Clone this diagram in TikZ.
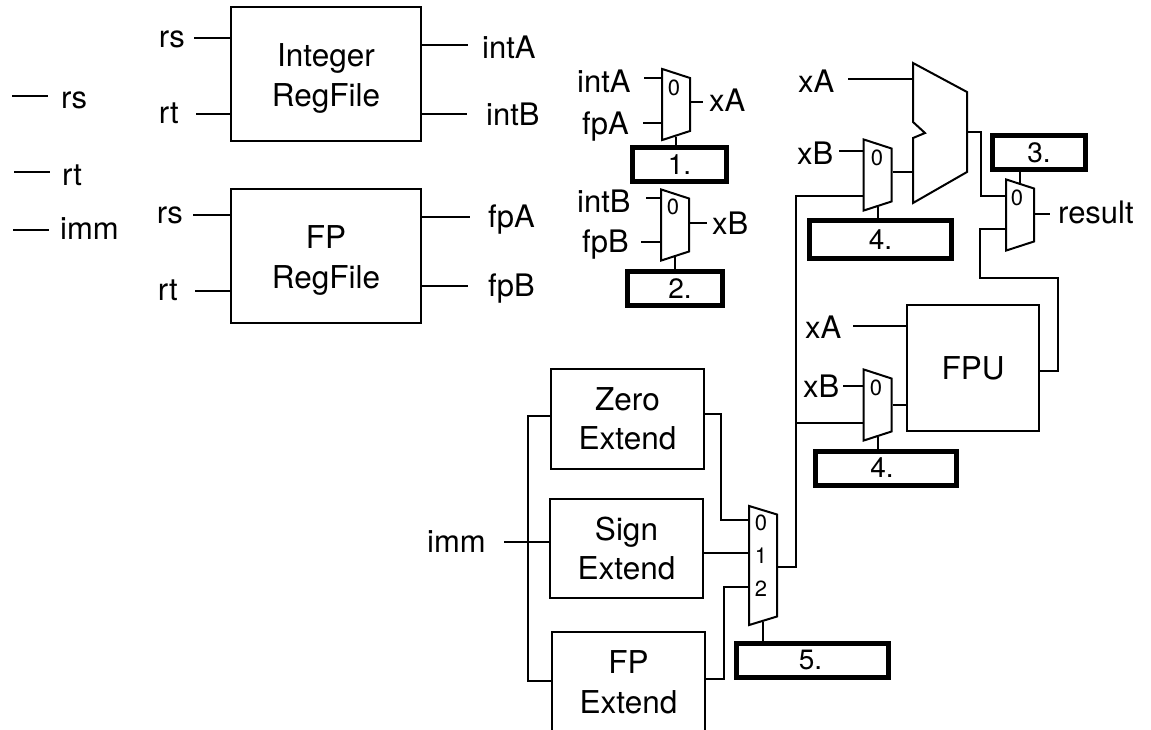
\documentclass[tikz,border=0pt]{standalone}
\usepackage{fontspec}
\setmainfont{TeX Gyre Heros}
\usetikzlibrary{shapes.geometric, positioning}

\begin{document}
\begin{tikzpicture}[
    x=1pt, y=-1pt,
    wire/.style={line width=2pt},
    box/.style={rectangle, draw, line width=2pt, align=center, font=\fontsize{31.5}{39.5}\selectfont},
    lbl/.style={inner sep=0pt, font=\fontsize{31}{37}\selectfont},
    ctrl/.style={rectangle, draw, line width=5pt, minimum height=34pt, font=\fontsize{28}{34}\selectfont},
    mux/.style={trapezium, draw, line width=2pt, inner xsep=14pt, inner ysep=26.5pt, shape border rotate=270, trapezium angle=72},
    num/.style={inner sep=0pt, font=\fontsize{22}{26}\selectfont}
]
\useasboundingbox (0,0) rectangle (1151,730);

% Free wires on the left
\coordinate (rsfree) at (48,96);
\coordinate (rsstart) at (12,96);
\coordinate (rtfree) at (50,172);
\coordinate (rtstart) at (14,172);
\coordinate (immfree) at (49,230);
\coordinate (immstart) at (13,230);
\node (rslbl) [lbl, anchor=base west] at (61,109) {rs};
\node (rtlbl) [lbl, anchor=base west] at (62,186) {rt};
\node (immlbl) [lbl, anchor=base west] at (60,240) {imm};
\draw [wire] (rsstart) -- (rsfree);
\draw [wire] (rtstart) -- (rtfree);
\draw [wire] (immstart) -- (immfree);

% Register files
\node (intreg) [box, minimum width=190pt, minimum height=134pt] at (326,74) {\rule{0pt}{32pt}Integer \\ RegFile};
\node (fpreg) [box, minimum width=190pt, minimum height=134pt, below=46pt of intreg] {\rule{0pt}{32pt}FP \\ RegFile};

\coordinate (intrs) at (194,38);
\coordinate (intrt) at (196,114);
\coordinate (fprs) at (193,215);
\coordinate (fprt) at (195,291);
\coordinate (intaout) at (468,45);
\coordinate (intbout) at (467,114);
\coordinate (fpaout) at (470,217);
\coordinate (fpbout) at (468,286);
\node (intrslbl) [lbl, anchor=base east] at (185,48) {rs};
\node (intrtlbl) [lbl, anchor=base east] at (179,124) {rt};
\node (fprslbl) [lbl, anchor=base east] at (183,224) {rs};
\node (fprtlbl) [lbl, anchor=base east] at (178,300) {rt};
\node (intalbl) [lbl, anchor=base west] at (482,59) {intA};
\node (intblbl) [lbl, anchor=base west] at (486,126) {intB};
\node (fpalbl) [lbl, anchor=base west] at (488,228) {fpA};
\node (fpblbl) [lbl, anchor=base west] at (488,296) {fpB};
\draw [wire] (intrs) -- (intreg.west |- intrs);
\draw [wire] (intrt) -- (intreg.west |- intrt);
\draw [wire] (fprs) -- (fpreg.west |- fprs);
\draw [wire] (fprt) -- (fpreg.west |- fprt);
\draw [wire] (intreg.east |- intaout) -- (intaout);
\draw [wire] (intreg.east |- intbout) -- (intbout);
\draw [wire] (fpreg.east |- fpaout) -- (fpaout);
\draw [wire] (fpreg.east |- fpbout) -- (fpbout);

% Forwarding muxes
\node (muxa) [mux] at (676,104.5) {};
\node (muxb) [mux] at (675,225) {};
\node (ctrl1) [ctrl, minimum width=94pt] at (679.5,164.5) {1.};
\node (ctrl2) [ctrl, minimum width=95pt] at (675,288.5) {\hspace*{10pt}2.};
\node (muxazero) [num] at (674,88) {0};
\node (muxbzero) [num] at (673,207) {0};

\coordinate (inta) at (644,78);
\coordinate (fpa) at (643,123);
\coordinate (xaout) at (703,102);
\coordinate (intb) at (646,198);
\coordinate (fpb) at (641,242);
\coordinate (xbout) at (707,223);
\node (intain) [lbl, anchor=base west] at (577,93) {intA};
\node (fpain) [lbl, anchor=base west] at (582,135) {fpA};
\node (xaoutlbl) [lbl, anchor=base west] at (709,112) {xA};
\node (intbin) [lbl, anchor=base west] at (577,212) {intB};
\node (fpbin) [lbl, anchor=base west] at (582,252) {fpB};
\node (xboutlbl) [lbl, anchor=base west] at (712,235) {xB};
\draw [wire] (inta) -- (muxa.west |- inta);
\draw [wire] (fpa) -- (muxa.west |- fpa);
\draw [wire] (muxa.east |- xaout) -- (xaout);
\draw [wire] (intb) -- (muxb.west |- intb);
\draw [wire] (fpb) -- (muxb.west |- fpb);
\draw [wire] (muxb.east |- xbout) -- (xbout);
\draw [wire] (muxa.south) -- (ctrl1.north -| muxa.south);
\draw [wire] (muxb.south) -- (ctrl2.north -| muxb.south);

% ALU
\coordinate (alua) at (913,79);
\coordinate (alub) at (913,172);
\coordinate (aluout) at (967,132);
\draw [wire, line join=miter] (913,63) -- (967,92) -- (967,172) -- (913,203) -- (913,138) -- (925,133) -- (913,122) -- cycle;

\node (muxalu) [mux] at (877.5,175) {};
\node (muxres) [mux] at (1020,215) {};
\node (muxfpu) [mux] at (877.5,405) {};
\node (ctrl3) [ctrl, minimum width=93pt] at (1039,153) {3.};
\node (ctrl4) [ctrl, minimum width=142pt, minimum height=38pt] at (880.5,239.5) {4.};
\node (ctrl4b) [ctrl, minimum width=141pt] at (886,468) {\hspace*{-8pt}4.};
\node (fpu) [box, minimum width=132pt, minimum height=126pt] at (973,368) {FPU};
\node (alubzero) [num] at (877,158) {0};
\node (reszero) [num] at (1017,198) {0};
\node (fpuzero) [num] at (876,388) {0};

\coordinate (xain) at (848,79);
\coordinate (xbin) at (839,151);
\coordinate (resout) at (1050,214);
\coordinate (xafpu) at (853,326);
\coordinate (xbfpu) at (843,386);
\node (xalbl) [lbl, anchor=base west] at (798,93) {xA};
\node (xblbl) [lbl, anchor=base west] at (797,165) {xB};
\node (reslbl) [lbl, anchor=base west] at (1058,223) {result};
\node (xafpulbl) [lbl, anchor=base west] at (805,338) {xA};
\node (xbfpulbl) [lbl, anchor=base west] at (803,397) {xB};

% Extenders
\node (zeroext) [box, minimum width=153pt, minimum height=100pt] at (627.5,419) {Zero \\ Extend};
\node (signext) [box, minimum width=153pt, minimum height=99pt] at (626.5,548.5) {Sign \\ Extend};
\node (fpext) [box, minimum width=153pt, minimum height=100pt] at (628.5,682) {FP \\ Extend};
\node (muximm) [mux, inner ysep=51pt, trapezium angle=73] at (763,565.5) {};
\node (ctrl5) [ctrl, minimum width=152pt] at (812.5,660) {\hspace*{-4pt}5.};
\node (immzero) [num] at (761,523) {0};
\node (immone) [num] at (761,556) {1};
\node (immtwo) [num] at (761,589) {2};

\coordinate (immin) at (504,542);
\coordinate (immbus) at (528,542);
\node (immextlbl) [lbl, anchor=base west] at (427,552) {imm};

% Wires
\draw [wire] (xain) -- (alua);
\draw [wire] (xbin) -- (muxalu.west |- xbin);
\draw [wire] (muxalu.east |- alub) -- (alub);
\draw [wire] (muxalu.south) -- (ctrl4.north -| muxalu.south);
\draw [wire] (aluout) -- (981,132) |- (muxres.west |- 0,196);
\draw [wire] (ctrl3.south -| muxres.north) -- (muxres.north);
\draw [wire] (muxres.east |- resout) -- (resout);
\draw [wire] (muxres.west |- 0,229) -- (980,229) -- (980,278) -- (1058,278) -- (1058,371) -- (fpu.east |- 0,371);
\draw [wire] (xafpu) -- (fpu.west |- xafpu);
\draw [wire] (xbfpu) -- (muxfpu.west |- xbfpu);
\draw [wire] (muxfpu.east) -- (fpu.west |- muxfpu.east);
\draw [wire] (muxfpu.south) -- (ctrl4b.north -| muxfpu.south);

\draw [wire] (immin) -- (signext.west |- immin);
\draw [wire] (zeroext.west |- 0,416) -- (immbus |- 0,416) -- (immbus |- 0,681) -- (fpext.west |- 0,681);
\draw [wire] (zeroext.east |- 0,414) -- (721,414) -- (721,520) -- (muximm.west |- 0,520);
\draw [wire] (signext.east |- 0,553) -- (muximm.west |- 0,553);
\draw [wire] (fpext.east |- 0,679) -- (724,679) -- (724,587) -- (muximm.west |- 0,587);
\draw [wire] (muximm.south) -- (ctrl5.north -| muximm.south);
\draw [wire] (muximm.east |- 0,567) -- (796,567) -- (796,196) -- (muxalu.west |- 0,196);
\draw [wire] (796,423) -- (muxfpu.west |- 0,423);

\end{tikzpicture}
\end{document}
